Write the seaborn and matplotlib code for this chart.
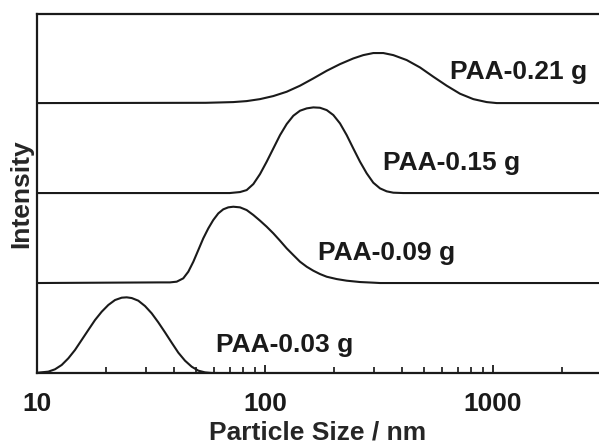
import numpy as np
import pandas as pd
import matplotlib
matplotlib.use("Agg")
import matplotlib.pyplot as plt
import seaborn as sns
from matplotlib.ticker import LogLocator, NullFormatter, FixedLocator

# particle size (nm) / intensity, one array pair per sample
size_003 = [10, 10.13, 11.21, 11.99, 12.83, 13.72, 14.68, 15.70, 16.79, 17.97, 19.22,
            20.55, 21.99, 23.52, 24.74, 26.03, 27.81, 29.77, 31.85, 34.04, 36.42, 38.97,
            41.67, 44.58, 47.70, 51.00, 54.56, 58.37, 62]
int_003 = [0.0, 0.004, 0.015, 0.041, 0.089, 0.163, 0.256, 0.367, 0.478, 0.589, 0.681,
           0.756, 0.811, 0.837, 0.841, 0.833, 0.804, 0.744, 0.663, 0.563, 0.452, 0.337,
           0.226, 0.137, 0.070, 0.026, 0.007, 0.0, 0.0]

size_009 = [10, 34.6, 38.3, 41.0, 43.8, 46.1, 48.5, 51.0, 53.6, 56.4, 59.3, 62.4, 65.6,
            69.0, 72.6, 77.7, 83.1, 88.9, 95.1, 101.7, 108.8, 116.4, 124.5, 133.1, 142.4,
            152.4, 162.9, 174.2, 186.5, 206.3, 228.2, 261.1, 298.5, 319.5, 3000]
int_009 = [0.0, 0.007, 0.007, 0.015, 0.052, 0.126, 0.237, 0.367, 0.496, 0.607, 0.700,
           0.774, 0.819, 0.841, 0.848, 0.841, 0.811, 0.756, 0.693, 0.626, 0.552, 0.470,
           0.385, 0.311, 0.237, 0.181, 0.137, 0.100, 0.070, 0.044, 0.026, 0.011, 0.004,
           0.0, 0.0]

size_015 = [10, 70.0, 77.7, 83.1, 88.9, 95.1, 101.7, 108.8, 116.4, 124.5, 133.1, 142.4,
            152.4, 162.9, 174.2, 186.5, 199.4, 213.3, 228.2, 243.9, 261.1, 279.3, 298.5,
            319.5, 341.8, 365.4, 404.3, 3000]
int_015 = [0.0, 0.0, 0.011, 0.033, 0.100, 0.211, 0.348, 0.496, 0.644, 0.767, 0.859,
           0.915, 0.941, 0.952, 0.948, 0.922, 0.867, 0.774, 0.644, 0.496, 0.348, 0.219,
           0.115, 0.052, 0.019, 0.004, 0.0, 0.0]

size_021 = [10, 55.0, 63.5, 72.6, 83.1, 95.1, 108.8, 124.5, 142.4, 162.9, 186.5, 213.3,
            243.9, 269.8, 298.5, 330.3, 365.4, 418.3, 478.5, 547.2, 626.6, 716.6, 819.6,
            938.4, 1038, 3000]
int_021 = [0.0, 0.003, 0.007, 0.011, 0.022, 0.044, 0.078, 0.126, 0.193, 0.274, 0.359,
           0.433, 0.496, 0.533, 0.556, 0.556, 0.533, 0.478, 0.396, 0.293, 0.193, 0.104,
           0.044, 0.011, 0.0, 0.0]

labels = ["PAA-0.03 g", "PAA-0.09 g", "PAA-0.15 g", "PAA-0.21 g"]
sizes = [size_003, size_009, size_015, size_021]
intensities = [int_003, int_009, int_015, int_021]

# where each label sits (nm, intensity above its own baseline)
label_x = [61, 171, 330, 647]
label_y = [0.31, 0.33, 0.33, 0.34]

sns.set_style("ticks")
plt.rcParams['font.family'] = ['Liberation Sans', 'DejaVu Sans']
plt.rcParams['font.weight'] = 'bold'

fig = plt.figure(figsize=(5.99, 4.44), dpi=100)
ax = fig.add_axes([37 / 599, 71 / 444, 562 / 599, 359 / 444])

for i in range(len(labels)):
    df = pd.DataFrame({"size": sizes[i], "intensity": np.array(intensities[i]) + i})
    sns.lineplot(data=df, x="size", y="intensity", ax=ax, color="#1a1a1a",
                 linewidth=1.5, estimator=None, sort=False)
    ax.text(label_x[i], label_y[i] + i, labels[i], fontsize=19, fontweight="bold",
            color="#1a1a1a", va="center", ha="left")

ax.set_xscale("log")
ax.set_xlim(10, 2917)
ax.set_ylim(0, 3.99)

ax.xaxis.set_major_locator(FixedLocator([10, 100, 1000]))
ax.xaxis.set_minor_locator(LogLocator(base=10, subs=np.arange(2, 10)))
ax.xaxis.set_minor_formatter(NullFormatter())
ax.set_xticklabels(["10", "100", "1000"])
ax.set_yticks([])

ax.tick_params(axis="x", which="major", direction="in", length=6, width=1.3,
               labelsize=19, pad=14, colors="#1a1a1a")
ax.tick_params(axis="x", which="minor", direction="in", length=4, width=1.3)
for lab in ax.get_xticklabels():
    lab.set_fontweight("bold")

for side in ["left", "bottom", "top"]:
    ax.spines[side].set_linewidth(1.6)
    ax.spines[side].set_color("#1a1a1a")
ax.spines["right"].set_visible(False)

ax.set_xlabel("Particle Size / nm", fontsize=19, fontweight="bold", labelpad=3)
ax.set_ylabel("Intensity", fontsize=19, fontweight="bold", labelpad=3)

fig.savefig("out.png", dpi=100)
